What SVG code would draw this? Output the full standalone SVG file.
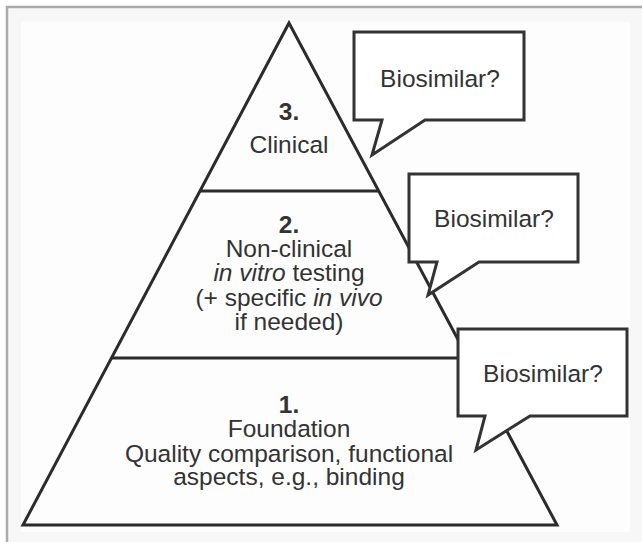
<svg xmlns="http://www.w3.org/2000/svg" width="642" height="542" viewBox="0 0 642 542">
  <style>
    .ln { stroke: #2b2b2b; stroke-width: 3; fill: none; stroke-linejoin: miter; stroke-linecap: square; }
    .bub { stroke: #333333; stroke-width: 3; fill: #ffffff; stroke-linejoin: miter; }
    .t { font-family: "Liberation Sans", Arial, sans-serif; font-size: 24.5px; fill: #333333; text-anchor: middle; }
    .b { font-weight: bold; }
    .i { font-style: italic; }
  </style>
  <rect x="0" y="0" width="642" height="542" fill="#ffffff"/>
  <rect x="7" y="7" width="635" height="535" fill="#f7f7f7"/>
  <rect x="21" y="22" width="609" height="510" fill="#fdfdfd"/>
  <path d="M7,542 V7 H642" stroke="#aaaaaa" stroke-width="2.5" fill="none"/>

  <g id="pyramid">
    <polygon class="ln" points="289,23 557,525 23,525" fill="#fdfdfd"/>
    <line class="ln" x1="201" y1="191" x2="377" y2="191"/>
    <line class="ln" x1="113" y1="358" x2="460" y2="358"/>
  </g>

  <g id="tier3">
    <text class="t b" x="289" y="120">3.</text>
    <text class="t" x="289" y="153">Clinical</text>
  </g>

  <g id="tier2">
    <text class="t b" x="289" y="233">2.</text>
    <text class="t" x="289" y="257">Non-clinical</text>
    <text class="t" x="289" y="281"><tspan class="i">in vitro</tspan> testing</text>
    <text class="t" x="289" y="306">(+ specific <tspan class="i">in vivo</tspan></text>
    <text class="t" x="289" y="330">if needed)</text>
  </g>

  <g id="tier1">
    <text class="t b" x="289" y="413">1.</text>
    <text class="t" x="289" y="437">Foundation</text>
    <text class="t" x="289" y="462">Quality comparison, functional</text>
    <text class="t" x="289" y="485">aspects, e.g., binding</text>
  </g>

  <g id="bubble3">
    <path class="bub" d="M354,32 H524 V120 H425 L372,155 L382,120 H354 Z"/>
    <text class="t" x="440" y="87">Biosimilar?</text>
  </g>

  <g id="bubble2">
    <path class="bub" d="M409,174 H578 V262 H479 L428,295 L437,262 H409 Z"/>
    <text class="t" x="494" y="227">Biosimilar?</text>
  </g>

  <g id="bubble1">
    <path class="bub" d="M458,329 H627 V416 H530 L476,450 L485,416 H458 Z"/>
    <text class="t" x="543" y="382">Biosimilar?</text>
  </g>
</svg>
